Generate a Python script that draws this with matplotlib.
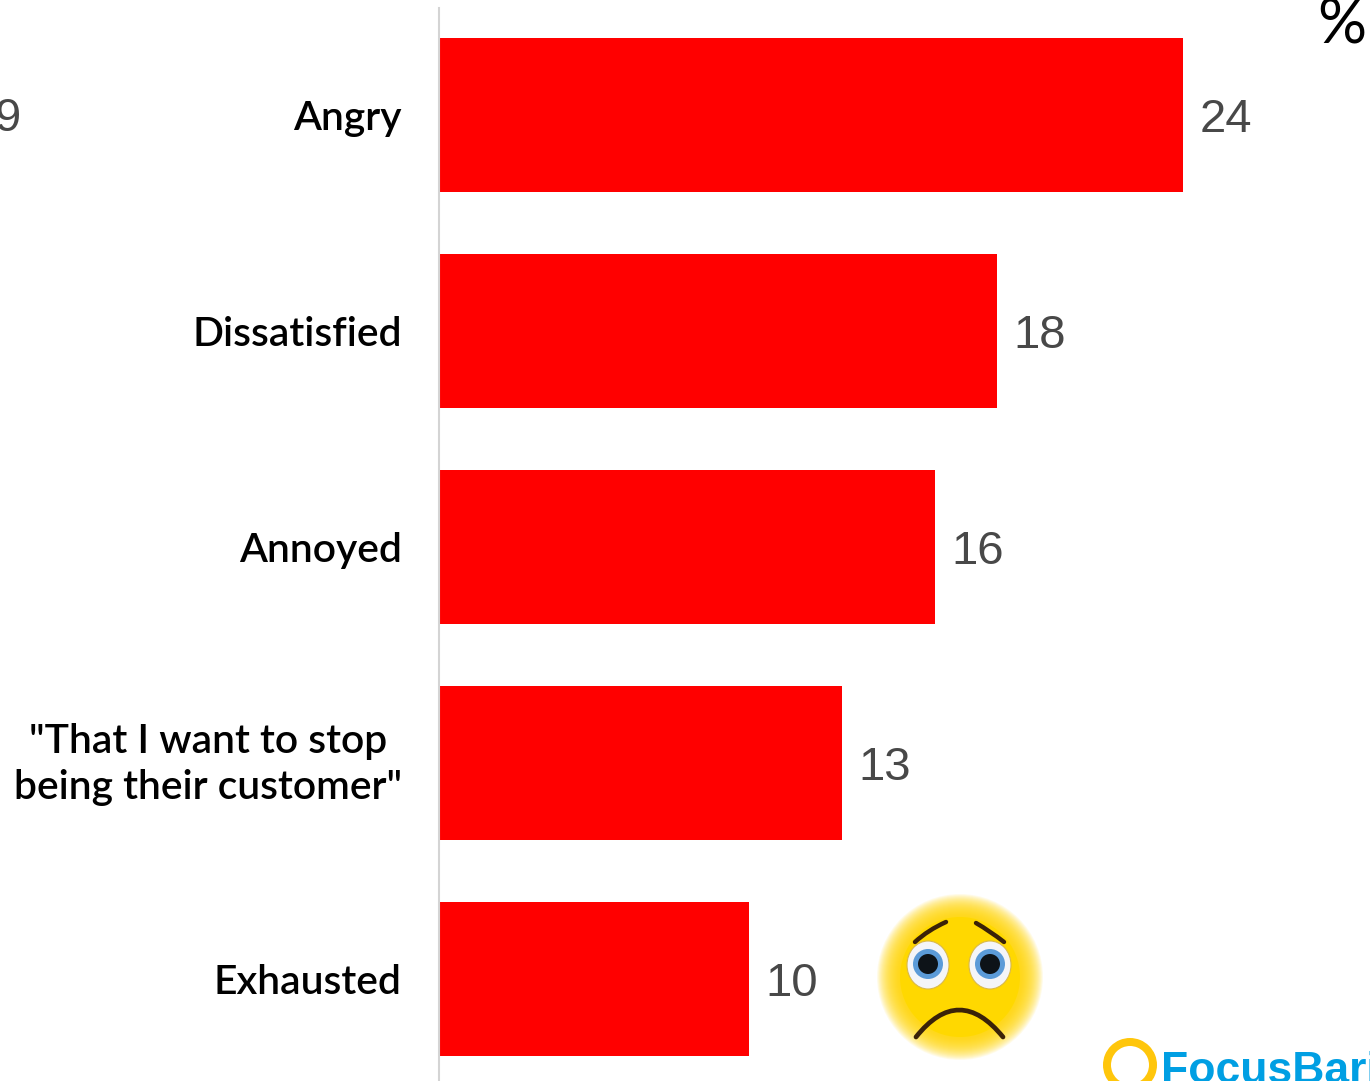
import numpy as np
import matplotlib
matplotlib.use("Agg")
import matplotlib.pyplot as plt
from matplotlib.patches import Circle, Ellipse, Wedge
from matplotlib.path import Path
from matplotlib.patches import PathPatch
from matplotlib.transforms import ScaledTranslation

categories = ["Angry", "Dissatisfied", "Annoyed",
              '"That I want to stop\nbeing their customer"', "Exhausted"]
values = [24, 18, 16, 13, 10]
unit_label = "%"
cropped_label = "9"
brand = "FocusBari"

W, H = 1370, 1081
fig = plt.figure(figsize=(W / 100, H / 100), dpi=100, facecolor="white")

# Bar panel
ax = fig.add_axes([438.5 / W, 0, (W - 438.5) / W, (H - 8) / H])
ax.barh(range(len(values)), values, height=154 / 216, color="#ff0000", linewidth=0)
ax.set_xlim(0, (W - 438.5) / 31)
ax.set_ylim((H - 115) / 216, -(115 - 8) / 216)
ax.set_xticks([])
ax.set_yticks(range(len(categories)))
ax.set_yticklabels(categories, fontfamily="Lato", fontweight="semibold", fontsize=29.3,
                   color="#000000", multialignment="center", linespacing=1.32)
ax.tick_params(axis="y", length=0, pad=26.5)
# The two-line label sits a little high against its bar
two_line = ax.get_yticklabels()[3]
two_line.set_transform(two_line.get_transform()
                       + ScaledTranslation(0, 7 / 100, fig.dpi_scale_trans))
for side in ("top", "right", "bottom"):
    ax.spines[side].set_visible(False)
ax.spines["left"].set_color("#d4d4d4")
ax.spines["left"].set_linewidth(1.5)
for i, v in enumerate(values):
    ax.annotate(str(v), (v, i), xytext=(12.5, 0), textcoords="offset points",
                va="center_baseline", ha="left", fontfamily="Liberation Sans",
                fontsize=34, color="#484848")

# Free-standing decorations in pixel coordinates
ov = fig.add_axes([0, 0, 1, 1], facecolor="none")
ov.set_xlim(0, W)
ov.set_ylim(H, 0)
ov.axis("off")

ov.text(1342, 43, unit_label, ha="center", va="baseline",
        fontfamily="Lato", fontsize=44, color="#000000")
ov.text(21, 131, cropped_label, ha="right", va="baseline",
        fontfamily="Liberation Sans", fontsize=34, color="#484848")

# Sad face: soft yellow disc with a feathered edge
cx, cy = 960, 977
for r in np.linspace(83, 58, 26):
    ov.add_patch(Circle((cx, cy), r, fc="#ffd800", ec="none", alpha=0.085))
ov.add_patch(Circle((cx, cy), 60, fc="#ffd800", ec="none"))
for ex in (928, 990):
    ov.add_patch(Ellipse((ex, 965), 42, 48, fc="#f4f5f8", ec="#d9b94a", lw=0.8))
    ov.add_patch(Circle((ex, 964), 15, fc="#5b9bd8", ec="none"))
    ov.add_patch(Circle((ex, 964), 10, fc="#0d1318", ec="none"))


def curve(p0, p1, p2, lw):
    ov.add_patch(PathPatch(Path([p0, p1, p2], [Path.MOVETO, Path.CURVE3, Path.CURVE3]),
                           fc="none", ec="#3a2208", lw=lw, capstyle="round"))


curve((915, 942), (928, 930), (946, 922), 3.2)
curve((976, 923), (990, 931), (1004, 942), 3.2)
curve((916, 1037), (959, 983), (1003, 1037), 3.4)

# Brand mark, running off the corner of the figure
ov.add_patch(Wedge((1130, 1065), 27, 0, 360, width=8, fc="#ffc60b", ec="none"))
ov.text(1161, 1083, brand, ha="left", va="baseline", fontfamily="Liberation Sans",
        fontweight="bold", fontsize=32, color="#009fe3")

fig.savefig("out.png", dpi=100, facecolor="white")
